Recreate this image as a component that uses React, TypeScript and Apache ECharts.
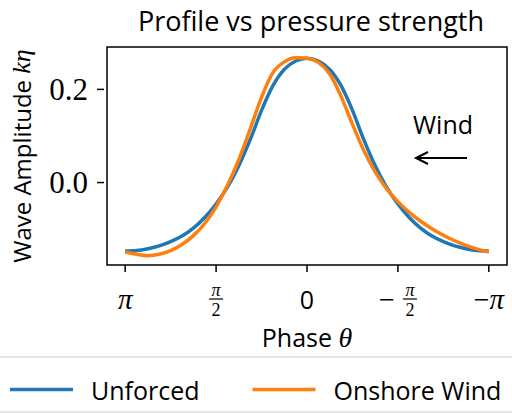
import React, { useEffect, useRef } from "react";
import * as echarts from "echarts";

const PI = Math.PI;

// Phase samples, in units of pi, running from pi down to -pi
const phaseOverPi = [
  1, 0.9375, 0.875, 0.8125, 0.75, 0.6875, 0.625, 0.5625, 0.5, 0.4375, 0.375,
  0.3125, 0.25, 0.1875, 0.125, 0.0625, 0, -0.0625, -0.125, -0.1875, -0.25,
  -0.3125, -0.375, -0.4375, -0.5, -0.5625, -0.625, -0.6875, -0.75, -0.8125,
  -0.875, -0.9375, -1,
];

// Surface elevation k*eta for each phase sample
const unforced = [
  -0.147, -0.146, -0.142, -0.136, -0.127, -0.115, -0.098, -0.075, -0.046,
  -0.01, 0.036, 0.092, 0.155, 0.208, 0.243, 0.261, 0.267, 0.261, 0.243, 0.208,
  0.155, 0.092, 0.036, -0.01, -0.046, -0.075, -0.098, -0.115, -0.127, -0.136,
  -0.142, -0.146, -0.147,
];

const onshoreWind = [
  -0.149, -0.154, -0.157, -0.154, -0.146, -0.133, -0.114, -0.088, -0.052,
  -0.006, 0.049, 0.115, 0.183, 0.236, 0.259, 0.268, 0.267, 0.258, 0.233, 0.185,
  0.125, 0.069, 0.023, -0.013, -0.041, -0.064, -0.083, -0.099, -0.113, -0.125,
  -0.135, -0.143, -0.149,
];

const seriesNames = ["Unforced", "Onshore Wind"];
const seriesColors = ["#1f77b4", "#ff7f0e"];

const xTickValues = [PI, PI / 2, 0, -PI / 2, -PI];
const xTickLabels = ["π", "π/2", "0", "−π/2", "−π"];
const yTickValues = [0, 0.2];
const yTickLabels = ["0.0", "0.2"];

const SANS = "'Open Sans', 'Noto Sans', sans-serif";
const SERIF = "'Liberation Serif', 'DejaVu Serif', serif";

const GRID = { left: 104, right: 5, top: 47, bottom: 148 };
const CHART_H = 413;
const TICK_LEN = 7;

export default function App() {
  const ref = useRef<HTMLDivElement>(null);

  useEffect(() => {
    if (!ref.current) return;
    const chart = echarts.init(ref.current, null, { renderer: "svg" });

    const toPairs = (vals: number[]) =>
      phaseOverPi.map((p, i) => [p * PI, vals[i]]);

    const mathRich = (size: number) => ({
      m: {
        fontFamily: SERIF,
        fontStyle: "italic",
        fontSize: size,
        color: "#000",
      },
    });

    const option: any = {
      animation: false,
      backgroundColor: "#fff",
      title: {
        text: "Profile vs pressure strength",
        left: 306,
        textAlign: "center",
        top: 2,
        textStyle: {
          fontFamily: SANS,
          fontSize: 27,
          fontWeight: "normal",
          color: "#000",
        },
      },
      grid: {
        ...GRID,
        show: true,
        borderColor: "#000",
        borderWidth: 1.5,
        backgroundColor: "transparent",
      },
      legend: {
        data: seriesNames,
        left: 5,
        top: 372,
        icon: "rect",
        itemWidth: 63,
        itemHeight: 3.5,
        itemGap: 53,
        textStyle: {
          fontFamily: SANS,
          fontSize: 25,
          color: "#000",
          padding: [0, 0, 0, 13],
        },
      },
      xAxis: {
        type: "value",
        inverse: true,
        min: -1.1 * PI,
        max: 1.1 * PI,
        axisLine: { show: false, onZero: false },
        splitLine: { show: false },
        axisTick: { show: false },
        axisLabel: { show: false },
        name: "Phase {m|θ}",
        nameLocation: "middle",
        nameGap: 58,
        nameTextStyle: {
          fontFamily: SANS,
          fontSize: 25,
          color: "#000",
          rich: mathRich(28),
        },
      },
      yAxis: {
        type: "value",
        min: -0.177,
        max: 0.291,
        axisLine: { show: false, onZero: false },
        splitLine: { show: false },
        axisTick: { show: false },
        axisLabel: { show: false },
        name: "Wave Amplitude {m|kη}",
        nameLocation: "middle",
        nameGap: 73,
        nameTextStyle: {
          fontFamily: SANS,
          fontSize: 24,
          color: "#000",
          rich: mathRich(26),
        },
      },
      series: [
        {
          name: seriesNames[0],
          type: "line",
          data: toPairs(unforced),
          smooth: 0.3,
          symbol: "none",
          lineStyle: { color: seriesColors[0], width: 3.5 },
          itemStyle: { color: seriesColors[0] },
        },
        {
          name: seriesNames[1],
          type: "line",
          data: toPairs(onshoreWind),
          smooth: 0.3,
          symbol: "none",
          lineStyle: { color: seriesColors[1], width: 3.5 },
          itemStyle: { color: seriesColors[1] },
        },
      ],
    };

    chart.setOption(option);

    const graphics: any[] = [];
    const frameBottom = CHART_H - GRID.bottom;
    const tickStyle = { stroke: "#000", lineWidth: 1.5 };

    // Amplitude ticks and labels on the left frame
    yTickValues.forEach((v, i) => {
      const py = chart.convertToPixel({ yAxisIndex: 0 }, v) as number;
      graphics.push(
        {
          type: "line",
          shape: { x1: GRID.left - TICK_LEN, y1: py, x2: GRID.left, y2: py },
          style: tickStyle,
        },
        {
          type: "text",
          x: 88,
          y: py,
          style: {
            text: yTickLabels[i],
            font: `31px ${SERIF}`,
            fill: "#000",
            align: "right",
            verticalAlign: "middle",
          },
        }
      );
    });

    // Phase ticks and labels, with stacked fractions for +-pi/2
    const labelY = 299;
    xTickValues.forEach((v, i) => {
      const px = chart.convertToPixel({ xAxisIndex: 0 }, v) as number;
      graphics.push({
        type: "line",
        shape: { x1: px, y1: frameBottom, x2: px, y2: frameBottom + TICK_LEN },
        style: tickStyle,
      });
      const label = xTickLabels[i];
      const negative = label.startsWith("−");
      const body = negative ? label.slice(1) : label;
      if (body.includes("/")) {
        const [num, den] = body.split("/");
        const cx = negative ? px + 12 : px;
        if (negative) {
          graphics.push({
            type: "text",
            x: px - 11,
            y: labelY,
            style: {
              text: "−",
              font: `28px ${SERIF}`,
              fill: "#000",
              align: "center",
              verticalAlign: "middle",
            },
          });
        }
        graphics.push(
          {
            type: "text",
            x: cx,
            y: labelY - 9,
            style: {
              text: num,
              font: `italic 18px ${SERIF}`,
              fill: "#000",
              align: "center",
              verticalAlign: "middle",
            },
          },
          {
            type: "line",
            shape: { x1: cx - 7, y1: labelY, x2: cx + 7, y2: labelY },
            style: { stroke: "#000", lineWidth: 1.2 },
          },
          {
            type: "text",
            x: cx,
            y: labelY + 11,
            style: {
              text: den,
              font: `18px ${SERIF}`,
              fill: "#000",
              align: "center",
              verticalAlign: "middle",
            },
          }
        );
      } else if (body === "0") {
        graphics.push({
          type: "text",
          x: px,
          y: labelY,
          style: {
            text: body,
            font: `25px ${SANS}`,
            fill: "#000",
            align: "center",
            verticalAlign: "middle",
          },
        });
      } else {
        graphics.push({
          type: "text",
          x: px,
          y: labelY,
          style: {
            rich: {
              r: { fontFamily: SERIF, fontSize: 28, fill: "#000" },
              i: {
                fontFamily: SERIF,
                fontStyle: "italic",
                fontSize: 29,
                fill: "#000",
              },
            },
            text: negative ? `{r|−}{i|${body}}` : `{i|${body}}`,
            fill: "#000",
            align: "center",
            verticalAlign: "middle",
          },
        });
      }
    });

    // Wind direction note and arrow
    graphics.push(
      {
        type: "text",
        x: 443,
        y: 124,
        style: {
          text: "Wind",
          font: `25px ${SANS}`,
          fill: "#000",
          align: "center",
          verticalAlign: "middle",
        },
      },
      {
        type: "line",
        shape: { x1: 467, y1: 158, x2: 416, y2: 158 },
        style: { stroke: "#000", lineWidth: 2 },
      },
      {
        type: "polyline",
        shape: {
          points: [
            [428, 152],
            [416, 158],
            [428, 164],
          ],
        },
        style: { stroke: "#000", lineWidth: 2, fill: null },
      }
    );

    // Legend frame spanning the bottom of the figure
    graphics.push({
      type: "rect",
      z: -1,
      shape: { x: -6, y: 357, width: 524, height: 55, r: 4 },
      style: { fill: "rgba(255,255,255,0.8)", stroke: "#cccccc", lineWidth: 1 },
    });

    chart.setOption({ graphic: graphics });

    return () => chart.dispose();
  }, []);

  return (
    <div
      ref={ref}
      style={{ position: "fixed", left: 0, top: 0, width: 512, height: CHART_H }}
    />
  );
}
